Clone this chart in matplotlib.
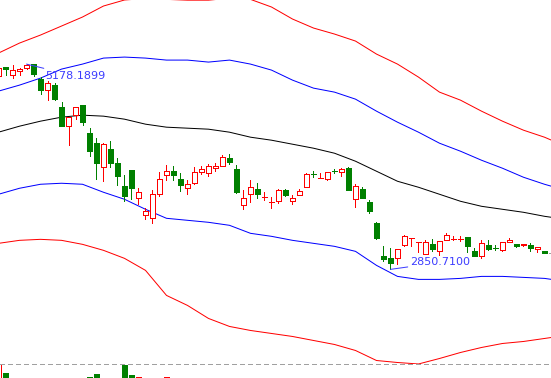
import matplotlib
matplotlib.use('Agg')
import matplotlib.pyplot as plt
from matplotlib.patches import Rectangle
from matplotlib.lines import Line2D

# 上证指数 日K 2015-06-08 ~ 2015-09-30
dates = ['06-08', '06-09', '06-10', '06-11', '06-12', '06-15', '06-16', '06-17', '06-18', '06-19',
         '06-23', '06-24', '06-25', '06-26', '06-29', '06-30', '07-01', '07-02', '07-03', '07-06',
         '07-07', '07-08', '07-09', '07-10', '07-13', '07-14', '07-15', '07-16', '07-17', '07-20',
         '07-21', '07-22', '07-23', '07-24', '07-27', '07-28', '07-29', '07-30', '07-31', '08-03',
         '08-04', '08-05', '08-06', '08-07', '08-10', '08-11', '08-12', '08-13', '08-14', '08-17',
         '08-18', '08-19', '08-20', '08-21', '08-24', '08-25', '08-26', '08-27', '08-28', '08-31',
         '09-01', '09-02', '09-07', '09-08', '09-09', '09-10', '09-11', '09-14', '09-15', '09-16',
         '09-17', '09-18', '09-21', '09-22', '09-23', '09-24', '09-25', '09-28', '09-29', '09-30']
opens = [5045, 5141, 5055, 5105, 5136, 5174, 5004, 4890, 4942, 4689,
         4471, 4604, 4711, 4399, 4289, 4006, 4214, 4058, 3793, 3975,
         3665, 3467, 3432, 3707, 3926, 3963, 3874, 3770, 3830, 3955,
         3949, 4005, 4028, 4119, 3985, 3585, 3700, 3767, 3664, 3613,
         3621, 3748, 3626, 3699, 3786, 3937, 3880, 3880, 3975, 3955,
         4000, 3653, 3759, 3611, 3373, 3004, 2980, 2978, 3128, 3200,
         3157, 3030, 3142, 3055, 3184, 3191, 3196, 3216, 3055, 3001,
         3131, 3100, 3075, 3163, 3134, 3124, 3123, 3082, 3055, 3036]
highs = [5147, 5147, 5164, 5130, 5178.1899, 5176, 5030, 4985, 4966, 4744,
         4578, 4691, 4720, 4456, 4345, 4287, 4304, 4119, 3918, 3975,
         3774, 3548, 3748, 3960, 4031, 4023, 3944, 3869, 4012, 4020,
         4051, 4057, 4145, 4164, 4037, 3755, 3869, 3830, 3728, 3672,
         3757, 3767, 3699, 3767, 3944, 3963, 3944, 3958, 3994, 3996,
         4006, 3816, 3785, 3642, 3388, 3120, 3092, 3085, 3238, 3208,
         3170, 3188, 3199, 3174, 3268, 3229, 3225, 3218, 3092, 3182,
         3188, 3123, 3160, 3210, 3142, 3143, 3154, 3101, 3060, 3036]
lows = [5010, 5050, 5020, 5060, 5120, 5048, 4842, 4767, 4767, 4476,
        4265, 4552, 4483, 4139, 3875, 3847, 4015, 3805, 3629, 3653,
        3589, 3422, 3374, 3683, 3861, 3861, 3740, 3700, 3816, 3937,
        3915, 3966, 4023, 4043, 3720, 3537, 3615, 3665, 3634, 3548,
        3603, 3683, 3597, 3690, 3780, 3899, 3878, 3861, 3949, 3912,
        3745, 3558, 3660, 3490, 3191, 2945, 2850.71, 2906, 3115, 3120,
        3050, 3022, 3058, 3011, 3180, 3188, 3169, 3049, 3000, 2983,
        3074, 3066, 3055, 3160, 3100, 3115, 3055, 3047, 3033, 3036]
closes = [5131, 5118, 5106, 5122, 5166, 5063, 4887, 4968, 4785, 4478,
          4576, 4690, 4527, 4193, 4053, 4277, 4054, 3913, 3687, 3776,
          3727, 3507, 3709, 3878, 3970, 3925, 3806, 3823, 3957, 3992,
          4018, 4026, 4124, 4071, 3726, 3663, 3789, 3706, 3675, 3623,
          3756, 3694, 3658, 3744, 3928, 3928, 3886, 3955, 3966, 3994,
          3748, 3794, 3664, 3508, 3210, 2965, 2927, 3084, 3232, 3206,
          3167, 3160, 3080, 3170, 3236, 3198, 3201, 3115, 3005, 3152,
          3086, 3093, 3156, 3186, 3116, 3142, 3092, 3100, 3038, 3036]
volumes = [860, 785, 700, 640, 690, 680, 620, 600, 640, 600,
           690, 560, 620, 754, 777, 730, 640, 660, 848, 769,
           754, 700, 690, 720, 754, 640, 560, 470, 480, 520,
           500, 480, 520, 560, 560, 520, 420, 440, 360, 330,
           320, 350, 300, 290, 420, 480, 400, 390, 440, 440,
           500, 460, 380, 330, 360, 380, 460, 390, 400, 420,
           320, 320, 250, 230, 290, 260, 220, 240, 230, 240,
           230, 180, 190, 200, 160, 150, 160, 120, 130, 120]

# 通道线（每3根K线读一次）
band_idx = [0, 3, 6, 9, 12, 15, 18, 21, 24, 27, 30, 33, 36, 39,
            42, 45, 48, 51, 54, 57, 60, 63, 66, 69, 72, 75, 78, 79]
mid = [4406.1, 4474.2, 4531.0, 4576.4, 4599.1, 4587.8, 4553.7, 4497.0, 4462.9, 4451.5,
       4440.2, 4406.1, 4349.4, 4315.3, 4269.9, 4224.5, 4167.7, 4076.9, 3963.3, 3849.8,
       3781.7, 3702.2, 3622.7, 3565.9, 3531.9, 3497.8, 3452.4, 3441.0]
upper1 = [4871.6, 4939.8, 5019.2, 5121.4, 5178.2, 5246.3, 5257.7, 5246.3, 5223.6, 5223.6,
          5200.9, 5223.6, 5178.2, 5110.1, 4996.5, 4905.7, 4860.3, 4780.8, 4644.6, 4519.7,
          4406.1, 4281.2, 4190.4, 4088.2, 3997.4, 3895.2, 3815.7, 3793.0]
lower1 = [3702.2, 3770.3, 3815.7, 3827.1, 3815.7, 3724.9, 3645.4, 3531.9, 3429.7, 3407.0,
          3384.3, 3350.2, 3259.4, 3225.3, 3179.9, 3145.8, 3111.8, 3055.0, 2896.0, 2771.1,
          2737.1, 2737.1, 2748.4, 2771.1, 2771.1, 2759.8, 2748.4, 2737.1]
upper2 = [5303.1, 5416.6, 5507.5, 5609.6, 5711.8, 5836.7, 5905.0, 5922.0, 5912.0, 5903.0,
          5903.0, 5925.0, 5912.0, 5825.4, 5689.1, 5587.0, 5518.8, 5439.4, 5291.7, 5178.2,
          5030.6, 4860.3, 4769.4, 4644.6, 4530.9, 4428.8, 4349.3, 4315.3]
lower2 = [3145.8, 3179.9, 3191.2, 3179.9, 3134.5, 3066.4, 2975.5, 2839.3, 2555.4, 2441.9,
          2294.3, 2203.5, 2158.0, 2124.0, 2089.9, 2044.5, 1999.1, 1931.0, 1817.4, 1794.7,
          1778.0, 1840.1, 1908.2, 1965.0, 2010.4, 2033.1, 2067.2, 2078.6]

RED = '#ff0000'
GREEN = '#008000'
BLUE = '#0000ff'
LABEL = '#3c3cff'
LW = 0.6

plt.rcParams['lines.scale_dashes'] = False
fig = plt.figure(figsize=(5.51, 3.78), dpi=100)
fig.patch.set_facecolor('white')

xlim = (0.214, 78.93)
ax = fig.add_axes([0, 14.5 / 378, 1, 363.5 / 378])
ax.set_xlim(*xlim)
ax.set_ylim(1783.4, 5904.9)
ax.axis('off')

# 通道线
for vals, col in [(upper2, RED), (lower2, RED), (upper1, BLUE), (lower1, BLUE), (mid, 'black')]:
    ax.plot(band_idx, vals, color=col, lw=0.72, zorder=1)

# K线
bw = 0.72
for i in range(len(dates)):
    o, h, l, c = opens[i], highs[i], lows[i], closes[i]
    top, bot = max(o, c), min(o, c)
    if c > o:
        col = RED
    elif c < o:
        col = GREEN
    else:
        col = '#a0a0a0'
    ax.vlines(i, top, h, color=col, lw=LW, antialiased=False, zorder=2)
    ax.vlines(i, l, bot, color=col, lw=LW, antialiased=False, zorder=2)
    if top - bot < 12:
        ax.hlines((top + bot) / 2, i - bw / 2, i + bw / 2, color=col, lw=LW,
                  antialiased=False, zorder=3)
    elif c > o:
        ax.add_patch(Rectangle((i - bw / 2, bot), bw, top - bot, facecolor='white',
                               edgecolor=col, lw=LW, antialiased=False, zorder=3))
    else:
        ax.add_patch(Rectangle((i - bw / 2, bot), bw, top - bot, facecolor=col,
                               edgecolor=col, lw=LW, antialiased=False, zorder=3))

# 最高/最低价标注
hi_i = highs.index(max(highs))
lo_i = lows.index(min(lows))
ax.annotate('%.4f' % highs[hi_i], xy=(hi_i, highs[hi_i]), xytext=(19, -12),
            textcoords='offset pixels', ha='left', va='center', fontsize=8, color=LABEL,
            arrowprops=dict(arrowstyle='-', color=LABEL, lw=0.72, shrinkA=0, shrinkB=0))
ax.annotate('%.4f' % lows[lo_i], xy=(lo_i, lows[lo_i]), xytext=(20, 7),
            textcoords='offset pixels', ha='left', va='center', fontsize=8, color=LABEL,
            arrowprops=dict(arrowstyle='-', color=LABEL, lw=0.72, shrinkA=0, shrinkB=0))

# 分隔虚线
fig.add_artist(Line2D([0, 1], [14.5 / 378, 14.5 / 378], color='#a0a0a0', lw=LW,
                      dashes=(2.9, 2.2), antialiased=False))

# 成交量（大部分在画面下方）
vax = fig.add_axes([0, -0.25, 1, 0.25 + 14.5 / 378])
vax.set_xlim(*xlim)
vax.set_ylim(0, max(volumes))
vax.axis('off')
for i in range(len(dates)):
    if closes[i] >= opens[i]:
        vax.add_patch(Rectangle((i - bw / 2, 0), bw, volumes[i], facecolor='white',
                                edgecolor=RED, lw=LW, antialiased=False))
    else:
        vax.add_patch(Rectangle((i - bw / 2, 0), bw, volumes[i], facecolor=GREEN,
                                edgecolor=GREEN, lw=LW, antialiased=False))

fig.savefig('out.png', dpi=100)
